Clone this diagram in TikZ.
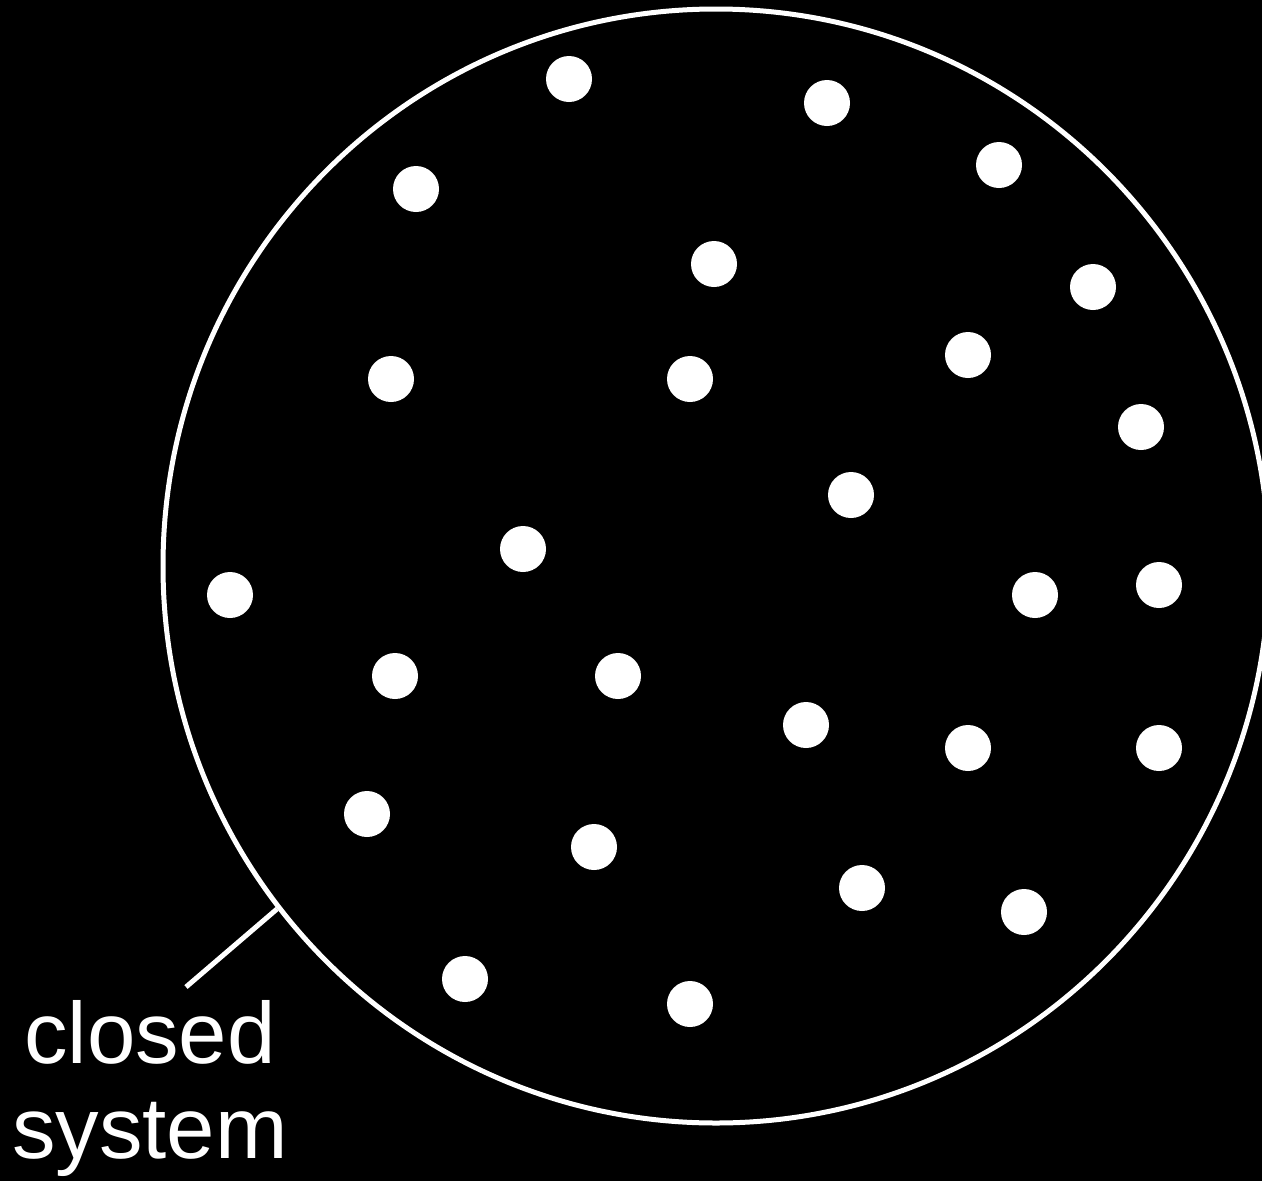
\documentclass[tikz,border=0pt]{standalone}
\usepackage{fontspec}
\usetikzlibrary{shapes.geometric}
\setmainfont{Liberation Sans}
\begin{document}
\begin{tikzpicture}[x=1pt,y=-1pt,
  particle/.style={circle,fill=white,draw=none,minimum size=46pt,inner sep=0pt},
  boundary/.style={ellipse,draw=white,line width=5pt,minimum width=1106pt,minimum height=1114pt,inner sep=0pt},
  lbl/.style={text=white,font=\fontsize{87}{95}\selectfont,anchor=base,inner sep=0pt},
  wire/.style={draw=white,line width=5pt}]
\fill[black] (0,0) rectangle (1262,1181);
\useasboundingbox (0,0) rectangle (1262,1181);
\node[boundary] (sys) at (716,566) {};
\foreach \x/\y [count=\i] in {569/79,827/103,416/189,999/165,714/264,1093/287,391/379,690/379,968/355,1141/427,851/495,523/549,230/595,1035/595,1159/585,395/676,618/676,806/725,968/748,1159/748,367/814,594/847,862/888,1024/912,465/979,690/1004}
  \node[particle] (p\i) at (\x,\y) {};
\node[lbl] (l1) at (150,1063) {closed};
\node[lbl] (l2) at (150,1158) {system};
\coordinate (tail) at (186,987);
\draw[wire] (tail) -- (sys.218.4);
\end{tikzpicture}
\end{document}
